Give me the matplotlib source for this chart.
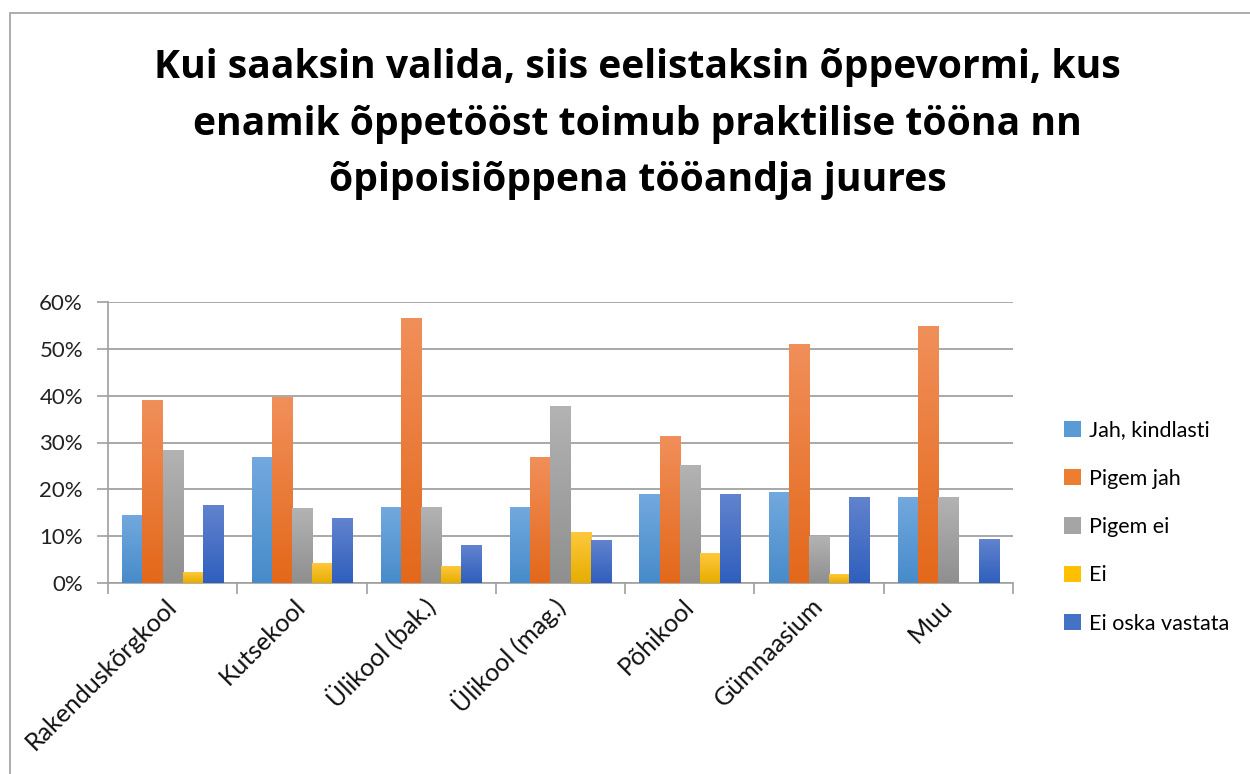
import numpy as np
import matplotlib
matplotlib.use('Agg')
import matplotlib.pyplot as plt
import matplotlib.patches
from matplotlib.colors import to_rgb

plt.rcParams['font.family'] = ['Lato', 'DejaVu Sans']

categories = ['Rakenduskõrgkool', 'Kutsekool', 'Ülikool (bak.)', 'Ülikool (mag.)',
              'Põhikool', 'Gümnaasium', 'Muu']
series_names = ['Jah, kindlasti', 'Pigem jah', 'Pigem ei', 'Ei', 'Ei oska vastata']
jah_kindlasti = [0.144, 0.267, 0.161, 0.161, 0.188, 0.193, 0.182]
pigem_jah = [0.389, 0.397, 0.564, 0.269, 0.312, 0.510, 0.547]
pigem_ei = [0.282, 0.159, 0.161, 0.376, 0.250, 0.100, 0.182]
ei = [0.022, 0.041, 0.035, 0.107, 0.063, 0.018, 0.0]
ei_oska = [0.165, 0.137, 0.080, 0.090, 0.188, 0.182, 0.092]
values = [jah_kindlasti, pigem_jah, pigem_ei, ei, ei_oska]
title_lines = ['Kui saaksin valida, siis eelistaksin õppevormi, kus',
               'enamik õppetööst toimub praktilise töönа nn'.replace('а', 'a'),
               'õpipoisiõppena tööandja juures']

# top / bottom colours of the Excel style gradient
top_colors = ['#72a9de', '#f18f5a', '#b3b3b3', '#ffc83c', '#6283ce']
bottom_colors = ['#478bca', '#e3681a', '#8f8f8f', '#e6ad00', '#2f5fbd']
mid_colors = ['#5b9bd5', '#ed7d31', '#a5a5a5', '#ffc000', '#4472c4']


def gradient(top, bottom, n=128):
    t = np.linspace(0, 1, n)[:, None, None]
    return np.array(to_rgb(top))[None, None, :] * (1 - t) + np.array(to_rgb(bottom))[None, None, :] * t


fig = plt.figure(figsize=(12.5, 7.74), dpi=100)
fig.add_artist(matplotlib.patches.Rectangle((10 / 1250, -0.1), 1.2, 1 - 13 / 774 + 0.1,
                                            transform=fig.transFigure, fill=False,
                                            edgecolor='#a6a6a6', lw=1.3))

ax = fig.add_axes([108 / 1250, 1 - 583 / 774, (1013 - 108) / 1250, (583 - 302) / 774])

x = np.arange(len(categories))
n = len(series_names)
group = 0.78
w = group / n
for i in range(n):
    bars = ax.bar(x - group / 2 + w * (i + 0.5), values[i], w, color='none', edgecolor='none')
    g = gradient(top_colors[i], bottom_colors[i])
    for b in bars:
        if b.get_height() <= 0:
            continue
        ax.imshow(g, extent=[b.get_x(), b.get_x() + b.get_width(), 0, b.get_height()],
                  aspect='auto', origin='upper', zorder=3, interpolation='bilinear')

ax.set_xlim(-0.5, len(categories) - 0.5)
ax.set_ylim(0, 0.6)
ax.set_yticks(np.arange(0, 0.61, 0.1))
ax.set_yticklabels(['%d%%' % round(v * 100) for v in np.arange(0, 0.61, 0.1)], fontsize=16,
                   color='#222222')
ax.yaxis.grid(True, color='#9a9a9a', lw=1.2, zorder=0)
ax.set_axisbelow(True)

ax.set_xticks(x)
ax.set_xticklabels(categories, rotation=45, ha='right', va='center', rotation_mode='anchor',
                   fontsize=18, color='#111111')
ax.tick_params(axis='x', which='major', length=0, pad=14)
ax.set_xticks(np.arange(-0.5, len(categories), 1.0), minor=True)
ax.tick_params(axis='x', which='minor', length=8, color='#a0a0a0', width=1.2)
ax.tick_params(axis='y', length=8, color='#a0a0a0', width=1.2, pad=10)

for s in ['top', 'right']:
    ax.spines[s].set_visible(False)
for s in ['left', 'bottom']:
    ax.spines[s].set_color('#a0a0a0')
    ax.spines[s].set_linewidth(1.2)

handles = [matplotlib.patches.Patch(facecolor=c, edgecolor='none') for c in mid_colors]
fig.legend(handles, series_names, loc='center left', bbox_to_anchor=(1045 / 1250, 1 - 527 / 774),
           frameon=False, fontsize=15.5, handlelength=0.78, handleheight=0.78,
           handletextpad=0.35, labelspacing=1.32)

for line, base in zip(title_lines, [78, 135, 191]):
    fig.text(0.51, 1 - base / 774, line, ha='center', va='baseline', fontsize=28.2,
             fontweight='bold', family=['Open Sans', 'DejaVu Sans'])

fig.savefig('out.png', dpi=100)
